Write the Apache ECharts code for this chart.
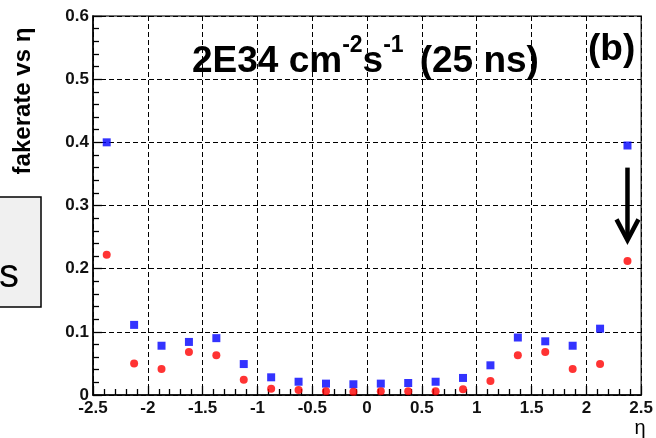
<!DOCTYPE html>
<html>
<head>
<meta charset="utf-8">
<script src="https://cdn.jsdelivr.net/npm/echarts@6/dist/echarts.min.js"></script>
<style>
html,body{margin:0;padding:0;background:#fff;}
#c{width:656px;height:438px;}
</style>
</head>
<body>
<div id="c"></div>
<script>
const etaCenters = [-2.375,-2.125,-1.875,-1.625,-1.375,-1.125,-0.875,-0.625,-0.375,-0.125,
                    0.125,0.375,0.625,0.875,1.125,1.375,1.625,1.875,2.125,2.375];
const fakeBlue = [0.400,0.111,0.078,0.084,0.090,0.049,0.028,0.021,0.018,0.017,
                  0.018,0.019,0.021,0.027,0.047,0.091,0.085,0.078,0.105,0.395];
const fakeRed = [0.222,0.050,0.041,0.068,0.063,0.024,0.010,0.008,0.006,0.005,
                 0.006,0.006,0.006,0.009,0.022,0.063,0.068,0.041,0.049,0.212];
const xTicks = {min:-2.5, max:2.5, step:0.5};
const yTicks = {min:0, max:0.6, step:0.1};
const arrowAt = {eta:2.375, from:0.36, to:0.245, wing:0.278, wingEta:0.1};

const FF = '"Liberation Sans", Arial, sans-serif';
const chart = echarts.init(document.getElementById('c'), null, {renderer:'canvas'});

const grid = {left:93, right:8, top:16, bottom:43, show:true, borderColor:'#444', borderWidth:1.5, backgroundColor:'transparent'};
const splitDash = {show:true, lineStyle:{color:'#000', type:[5,3], width:1}};

chart.setOption({
  animation:false,
  backgroundColor:'#fff',
  grid: grid,
  xAxis: {
    type:'value', min:xTicks.min, max:xTicks.max, interval:xTicks.step,
    axisLine:{show:true, onZero:false, lineStyle:{color:'#000', width:1.5}},
    axisTick:{show:true, inside:true, length:9, lineStyle:{color:'#000', width:1.3}},
    minorTick:{show:true, splitNumber:5, length:6, lineStyle:{color:'#000', width:1.3}},
    splitLine: splitDash,
    axisLabel:{color:'#111', fontFamily:FF, fontWeight:'bold', fontSize:17, margin:5,
               formatter:function(v){return String(Math.round(v*10)/10);}}
  },
  yAxis: {
    type:'value', min:yTicks.min, max:yTicks.max, interval:yTicks.step,
    axisLine:{show:true, onZero:false, lineStyle:{color:'#000', width:1.5}},
    axisTick:{show:true, inside:true, length:9, lineStyle:{color:'#000', width:1.3}},
    minorTick:{show:true, splitNumber:5, length:6, lineStyle:{color:'#000', width:1.3}},
    splitLine: splitDash,
    axisLabel:{color:'#111', fontFamily:FF, fontWeight:'bold', fontSize:17, margin:4,
               formatter:function(v){return String(Math.round(v*10)/10);}}
  },
  series: [
    {type:'scatter', symbol:'rect', symbolSize:8, itemStyle:{color:'#0000ff'},
     data: etaCenters.map((e,i)=>[e, fakeBlue[i]]), z:3},
    {type:'scatter', symbol:'circle', symbolSize:8, itemStyle:{color:'#ff0000'},
     data: etaCenters.map((e,i)=>[e, fakeRed[i]]), z:4}
  ],
  graphic: [
    {type:'rect', shape:{x:-2, y:197, width:43, height:110},
     style:{fill:'#f0f0f0', stroke:'#000', lineWidth:1.5}, z:10},
    {type:'text', x:-1, y:276, z:11,
     style:{text:'s', fontSize:40, fontFamily:FF, fill:'#000', align:'left', verticalAlign:'middle'}},
    {type:'text', x:23, y:101, rotation:Math.PI/2, z:11,
     style:{text:'fakerate vs η', fontSize:24, fontWeight:'bold', fontFamily:FF, fill:'#000',
            align:'center', verticalAlign:'middle'}},
    {type:'text', x:640, y:428, z:11,
     style:{text:'η', fontSize:20, fontFamily:FF, fill:'#000', align:'center', verticalAlign:'middle'}},
    {type:'text', x:192, y:34, z:11,
     style:{text:'{a|2E34 cm}{s|-2}{a|s}{s|-1}{p|(25 ns)}', align:'left', verticalAlign:'top',
            rich:{
              a:{fontSize:37, lineHeight:46, fontWeight:'bold', fontFamily:FF, fill:'#000', verticalAlign:'bottom'},
              p:{fontSize:37, lineHeight:46, fontWeight:'bold', fontFamily:FF, fill:'#000', verticalAlign:'bottom', padding:[0,0,0,16]},
              s:{fontSize:23, fontWeight:'bold', fontFamily:FF, fill:'#000', verticalAlign:'top'}
            }}},
    {type:'text', x:588, y:31, z:11,
     style:{text:'(b)', fontSize:37, fontWeight:'bold', fontFamily:FF, fill:'#000', align:'left', verticalAlign:'top'}}
  ]
});

const p0 = chart.convertToPixel({gridIndex:0}, [arrowAt.eta, arrowAt.from]);
const p1 = chart.convertToPixel({gridIndex:0}, [arrowAt.eta, arrowAt.to]);
const wl = chart.convertToPixel({gridIndex:0}, [arrowAt.eta - arrowAt.wingEta, arrowAt.wing]);
const wr = chart.convertToPixel({gridIndex:0}, [arrowAt.eta + arrowAt.wingEta, arrowAt.wing]);
chart.setOption({
  graphic: [
    {id:'arrowShaft', type:'line', z:12, shape:{x1:p0[0], y1:p0[1], x2:p1[0], y2:p1[1]-3},
     style:{stroke:'#000', lineWidth:4.5}},
    {id:'arrowHead', type:'polyline', z:12, shape:{points:[wl, p1, wr]},
     style:{stroke:'#000', lineWidth:4.5, fill:null, lineJoin:'miter'}}
  ]
});
</script>
</body>
</html>
